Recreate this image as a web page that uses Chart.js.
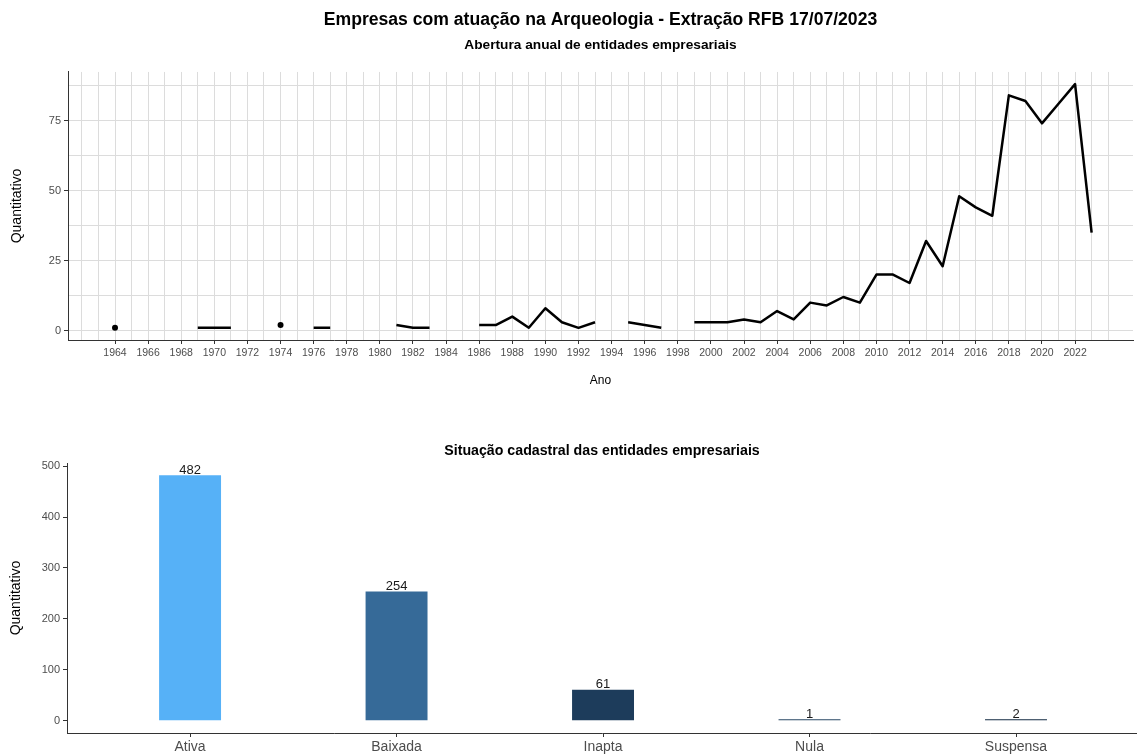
<!DOCTYPE html>
<html><head><meta charset="utf-8">
<script src="https://cdn.jsdelivr.net/npm/chart.js@4.4.0/dist/chart.umd.min.js"></script>
<style>
html,body{margin:0;padding:0;background:#fff;}
#wrap{position:relative;width:1137px;height:756px;overflow:hidden;}
#c1{position:absolute;left:0;top:0;}
#c2{position:absolute;left:0;top:400px;}
</style></head><body>
<div id="wrap">
<canvas id="c1" width="1137" height="400"></canvas>
<canvas id="c2" width="1137" height="356"></canvas>
</div>
<script>
// ---- data ----
const years = [1964, 1969, 1970, 1971, 1974, 1976, 1977, 1981, 1982, 1983,
  1986, 1987, 1988, 1989, 1990, 1991, 1992, 1993, 1995, 1996, 1997,
  1999, 2000, 2001, 2002, 2003, 2004, 2005, 2006, 2007, 2008, 2009, 2010,
  2011, 2012, 2013, 2014, 2015, 2016, 2017, 2018, 2019, 2020, 2021, 2022, 2023];
const openings = [1, 1, 1, 1, 2, 1, 1, 2, 1, 1,
  2, 2, 5, 1, 8, 3, 1, 3, 3, 2, 1,
  3, 3, 3, 4, 3, 7, 4, 10, 9, 12, 10, 20,
  20, 17, 32, 23, 48, 44, 41, 84, 82, 74, 81, 88, 35];
const yearTickLabels = [1964, 1966, 1968, 1970, 1972, 1974, 1976, 1978, 1980, 1982,
  1984, 1986, 1988, 1990, 1992, 1994, 1996, 1998, 2000, 2002, 2004, 2006, 2008,
  2010, 2012, 2014, 2016, 2018, 2020, 2022];
const yearGridLines = [1962, 1963, 1964, 1965, 1966, 1967, 1968, 1969, 1970, 1971, 1972,
  1973, 1974, 1975, 1976, 1977, 1978, 1979, 1980, 1981, 1982, 1983, 1984, 1985, 1986,
  1987, 1988, 1989, 1990, 1991, 1992, 1993, 1994, 1995, 1996, 1997, 1998, 1999, 2000,
  2001, 2002, 2003, 2004, 2005, 2006, 2007, 2008, 2009, 2010, 2011, 2012, 2013, 2014,
  2015, 2016, 2017, 2018, 2019, 2020, 2021, 2022, 2023, 2024];
const countTickLabels = [0, 25, 50, 75];
const countGridLines = [0, 12.5, 25, 37.5, 50, 62.5, 75, 87.5];

const situations = ['Ativa', 'Baixada', 'Inapta', 'Nula', 'Suspensa'];
const situationCounts = [482, 254, 61, 1, 2];
const situationTickLabels = [0, 100, 200, 300, 400, 500];
const situationColors = ['#56B1F7', '#366A98', '#1D3C5B', '#2A4866', '#132B43'];

// ---- charts ----
const F = '"Liberation Sans", Arial, sans-serif';
Chart.defaults.font.family = F;

new Chart(document.getElementById('c1'), {
  type: 'line',
  data: {
    datasets: [{
      data: years.map((y, i) => ({ x: y, y: openings[i] })),
      borderColor: '#000',
      borderWidth: 2.5,
      borderJoinStyle: 'round',
      tension: 0,
      spanGaps: 1.5,
      pointBackgroundColor: '#000',
      pointBorderWidth: 0,
      pointRadius: ctx => {
        const y = years[ctx.dataIndex];
        return (!years.includes(y - 1) && !years.includes(y + 1)) ? 3 : 0;
      }
    }]
  },
  options: {
    responsive: false, animation: false, devicePixelRatio: 1,
    layout: { padding: { left: 0, right: 0, top: 0, bottom: 0 } },
    plugins: {
      legend: { display: false }, tooltip: { enabled: false },
      title: { display: true, fullSize: false, text: 'Empresas com atuação na Arqueologia - Extração RFB 17/07/2023',
        color: '#000', font: { family: F, size: 17.6, weight: 'bold' }, padding: { top: 10, bottom: 4 } },
      subtitle: { display: true, fullSize: false, text: 'Abertura anual de entidades empresariais',
        color: '#000', font: { family: F, size: 13.7, weight: 'bold' }, padding: { top: 2, bottom: 18.4 } }
    },
    scales: {
      x: {
        type: 'linear', min: 1961.16, max: 2025.5, offset: false,
        afterBuildTicks: s => { s.ticks = yearGridLines.map(v => ({ value: v })); },
        afterFit: s => { s.height = 60; },
        ticks: { autoSkip: false, maxRotation: 0, minRotation: 0, padding: 3, color: '#4d4d4d',
          font: { family: F, size: 10.5 },
          callback: v => yearTickLabels.includes(v) ? String(v) : '' },
        grid: { color: '#dcdcdc', lineWidth: 1, tickLength: 4,
          tickColor: ctx => (ctx.tick && yearTickLabels.includes(ctx.tick.value)) ? '#333' : 'rgba(0,0,0,0)' },
        border: { display: true, color: '#333', width: 1 },
        title: { display: true, text: 'Ano', color: '#000', font: { family: F, size: 12 }, padding: { top: 0, bottom: 12 } }
      },
      y: {
        min: -3.35, max: 92.35,
        afterBuildTicks: s => { s.ticks = countGridLines.map(v => ({ value: v })); },
        afterFit: s => { s.width = 68; },
        ticks: { padding: 3, color: '#4d4d4d', font: { family: F, size: 11 },
          callback: v => countTickLabels.includes(v) ? String(v) : '' },
        grid: { color: '#dcdcdc', lineWidth: 1, tickLength: 4,
          tickColor: ctx => (ctx.tick && countTickLabels.includes(ctx.tick.value)) ? '#333' : 'rgba(0,0,0,0)' },
        border: { display: true, color: '#333', width: 1 },
        title: { display: true, text: 'Quantitativo', color: '#000', font: { family: F, size: 14 }, padding: { top: 9, bottom: 0 } }
      }
    }
  }
});

const valueLabels = {
  id: 'valueLabels',
  afterDatasetsDraw(chart) {
    const ctx = chart.ctx;
    const meta = chart.getDatasetMeta(0);
    ctx.save();
    ctx.font = '13px ' + F;
    ctx.fillStyle = '#1a1a1a';
    ctx.textAlign = 'center';
    ctx.textBaseline = 'alphabetic';
    meta.data.forEach((el, i) => {
      ctx.fillText(String(situationCounts[i]), el.x, el.y - 1.5);
    });
    ctx.restore();
  }
};

new Chart(document.getElementById('c2'), {
  type: 'bar',
  data: {
    datasets: [{
      data: situations.map((s, i) => ({ x: i + 1, y: situationCounts[i] })),
      backgroundColor: situationColors,
      borderWidth: 0,
      minBarLength: 1.5,
      barPercentage: 0.3,
      categoryPercentage: 1
    }]
  },
  options: {
    responsive: false, animation: false, devicePixelRatio: 1,
    layout: { padding: { left: 0, right: 0, top: 0, bottom: 0 } },
    plugins: {
      legend: { display: false }, tooltip: { enabled: false },
      title: { display: true, fullSize: false, text: 'Situação cadastral das entidades empresariais',
        color: '#000', font: { family: F, size: 14.2, weight: 'bold' }, padding: { top: 43, bottom: 2.96 } }
    },
    scales: {
      x: {
        type: 'linear', min: 0.404, max: 5.586, offset: false,
        afterBuildTicks: s => { s.ticks = situations.map((_, i) => ({ value: i + 1 })); },
        afterFit: s => { s.height = 23; },
        ticks: { autoSkip: false, maxRotation: 0, minRotation: 0, padding: 2, color: '#4d4d4d',
          font: { family: F, size: 14 }, callback: v => situations[v - 1] },
        grid: { drawOnChartArea: false, offset: false, tickLength: 4, tickColor: '#333' },
        border: { display: true, color: '#333', width: 1 }
      },
      y: {
        min: -24.05, max: 506.05,
        afterBuildTicks: s => { s.ticks = situationTickLabels.map(v => ({ value: v })); },
        afterFit: s => { s.width = 67; },
        ticks: { padding: 3, color: '#4d4d4d', font: { family: F, size: 11 } },
        grid: { drawOnChartArea: false, tickLength: 4, tickColor: '#333' },
        border: { display: true, color: '#333', width: 1 },
        title: { display: true, text: 'Quantitativo', color: '#000', font: { family: F, size: 14 }, padding: { top: 8, bottom: 0 } }
      }
    }
  },
  plugins: [valueLabels]
});
</script>
</body></html>
